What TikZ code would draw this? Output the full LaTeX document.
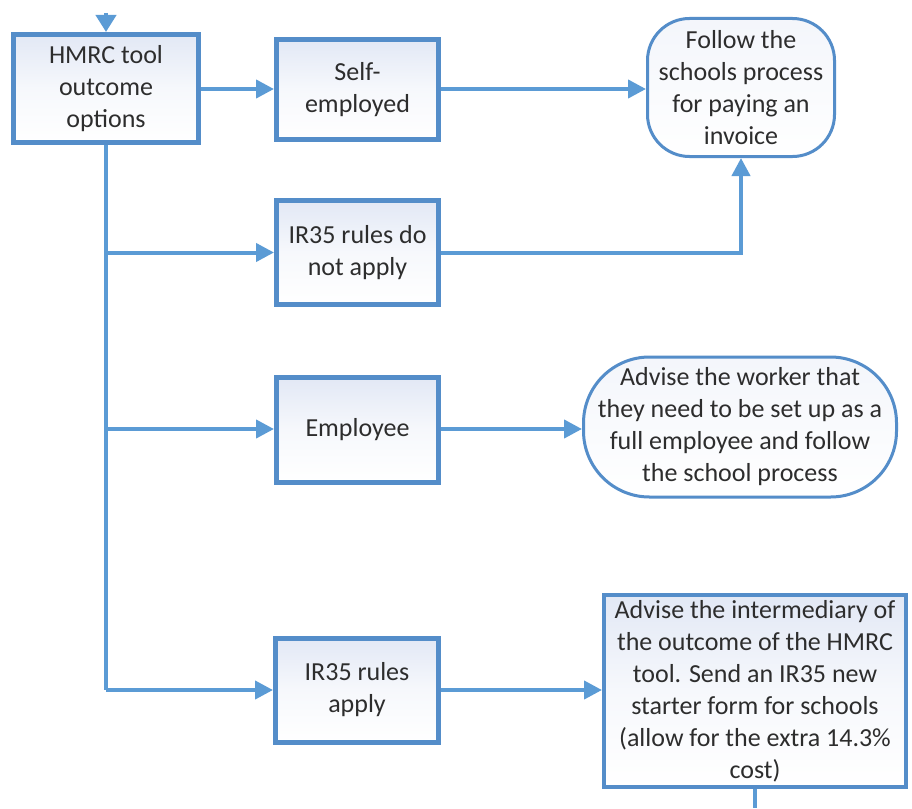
\documentclass[tikz,border=0pt]{standalone}
\usepackage{fontspec}
\setmainfont{Carlito}
\usetikzlibrary{arrows.meta}
\definecolor{lineblue}{RGB}{91,155,213}
\definecolor{edgeblue}{RGB}{84,141,201}
\definecolor{boxtop}{RGB}{226,232,245}
\definecolor{txt}{RGB}{45,45,45}
\tikzset{
  procbox/.style={draw=edgeblue, line width=5pt, top color=boxtop, bottom color=white, middle color=white!70!boxtop,
    align=center, text=txt, inner sep=0pt, font=\fontsize{26}{32}\selectfont},
  termbox/.style={draw=edgeblue, line width=3pt, top color=white!60!boxtop, bottom color=white,
    align=center, text=txt, inner sep=0pt, font=\fontsize{26}{32}\selectfont},
  flow/.style={draw=lineblue, line width=4pt, -{Triangle[length=18pt,width=18pt]}},
  plainline/.style={draw=lineblue, line width=4pt},
}
\begin{document}
\begin{tikzpicture}[x=1pt,y=-1pt]
\useasboundingbox (0,0) rectangle (912,808);
\fill[white] (0,0) rectangle (912,808);

\node[procbox, minimum width=185pt, minimum height=108pt] (hmrc) at (106,88.5) {HMRC tool\\outcome\\options};
\node[procbox, minimum width=162pt, minimum height=100pt] (self) at (357.5,89.5) {Self-\\employed};
\node[termbox, rounded corners=42pt, minimum width=187pt, minimum height=138pt] (follow) at (741,87.5) {Follow the\\schools process\\for paying an\\invoice};
\node[procbox, minimum width=162pt, minimum height=104pt] (notapply) at (357.5,252.5) {IR35 rules do\\not apply};
\node[procbox, minimum width=162pt, minimum height=105pt] (employee) at (357.5,430) {Employee};
\node[termbox, rounded corners=66pt, minimum width=313pt, minimum height=140pt] (worker) at (740,427) {Advise the worker that\\they need to be set up as a\\full employee and follow\\the school process};
\node[procbox, minimum width=163pt, minimum height=104pt] (apply) at (357,690) {IR35 rules\\apply};
\node[procbox, line width=4pt, minimum width=302pt, minimum height=192pt] (inter) at (755,691) {Advise the intermediary of\\the outcome of the HMRC\\tool. Send an IR35 new\\starter form for schools\\(allow for the extra 14.3\%\\cost)};

\coordinate (topin) at (106,13);
\coordinate (botout) at (inter.south |- 0,808);
\coordinate (row1) at (0,89);
\coordinate (row3) at (0,429);
\coordinate (row4) at (0,690);

\draw[draw=lineblue, line width=4pt, -{Triangle[length=17pt,width=20pt]}] (topin) -- (hmrc.north);
\draw[flow] (hmrc.east |- row1) -- (self.west |- row1);
\draw[flow] (self.east |- row1) -- (follow.west |- row1);
\draw[plainline] (hmrc.south) -- (hmrc.south |- row4);
\draw[flow] (hmrc.south |- notapply.west) -- (notapply.west);
\draw[flow] (hmrc.south |- row3) -- (employee.west |- row3);
\draw[flow] (hmrc.south |- row4) -- (apply.west |- row4);
\draw[flow] (notapply.east) -| (follow.south);
\draw[flow] (employee.east |- row3) -- (worker.west |- row3);
\draw[flow] (apply.east |- row4) -- (inter.west |- row4);
\draw[plainline] (inter.south) -- (botout);
\end{tikzpicture}
\end{document}
